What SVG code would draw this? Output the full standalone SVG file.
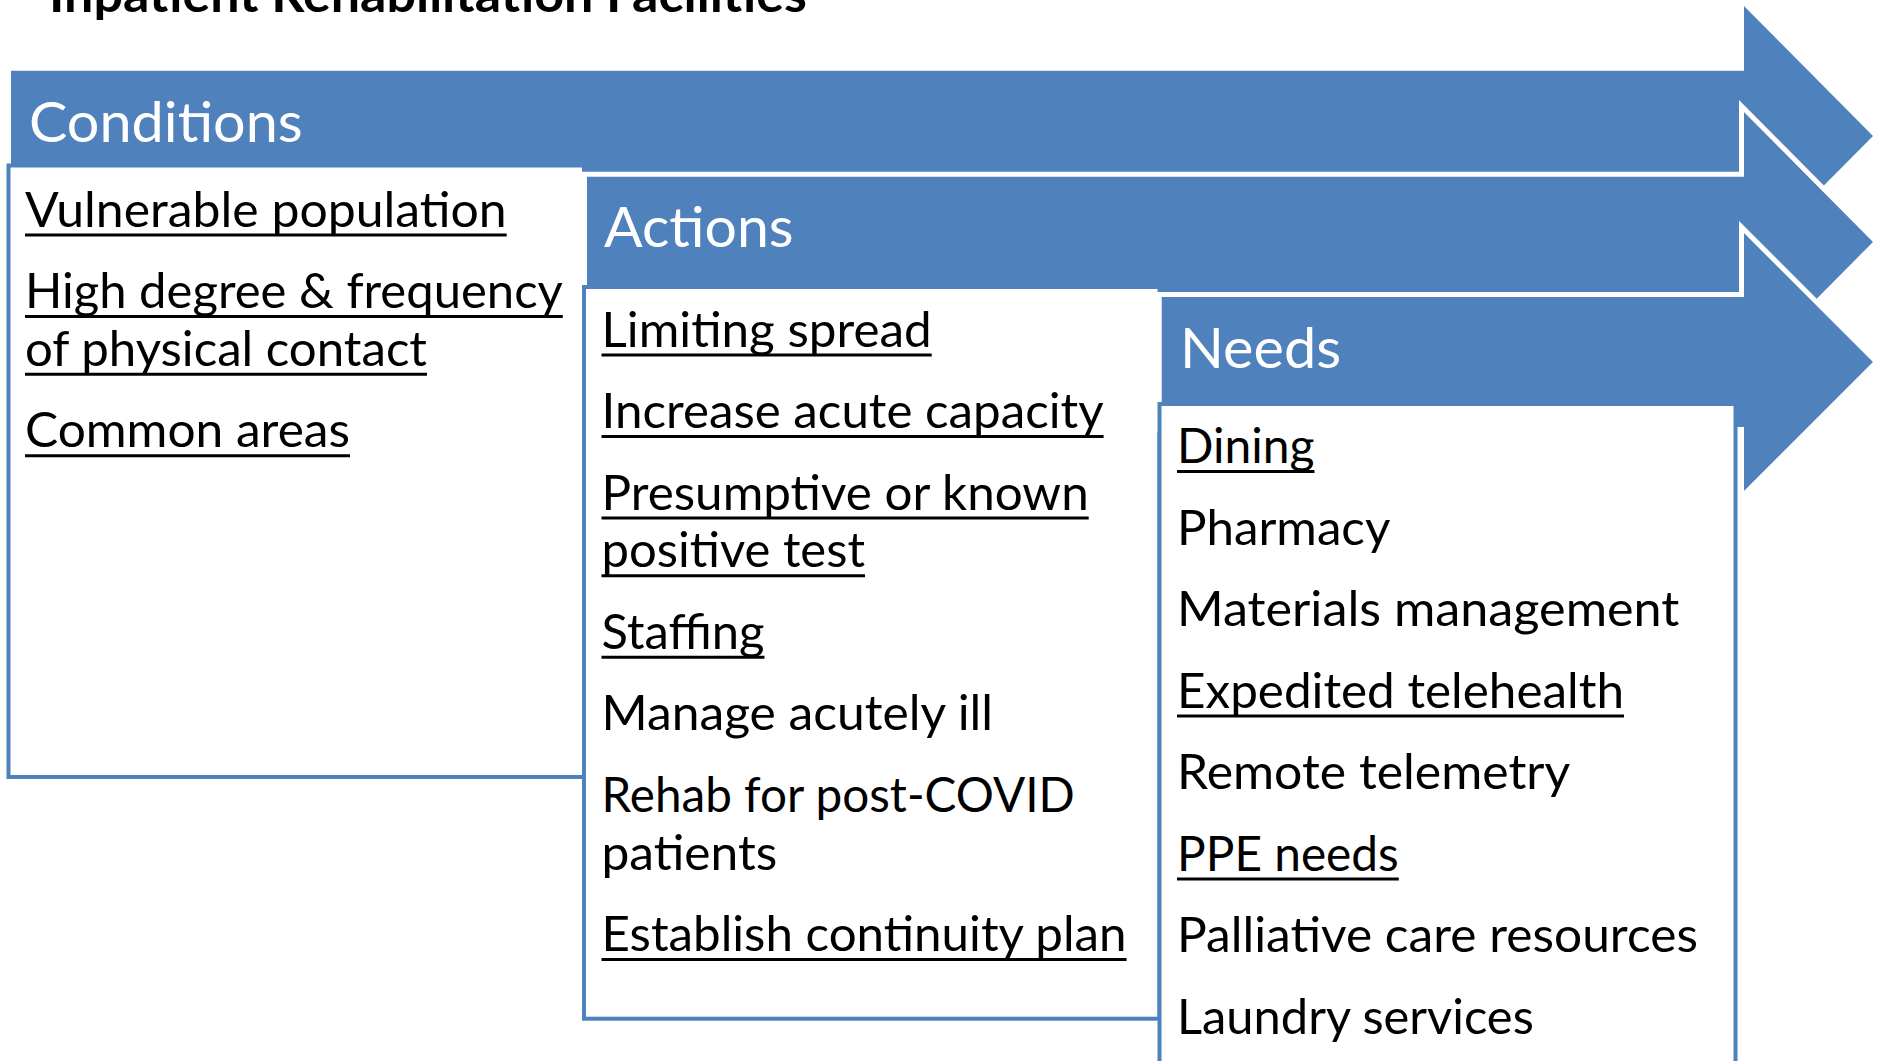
<svg xmlns="http://www.w3.org/2000/svg" width="1877" height="1061" viewBox="0 0 1877 1061">
<style>
text{font-family:Lato,"Liberation Sans","DejaVu Sans",sans-serif}
.title{font-size:49px;font-weight:700;fill:#000}
.hdr{font-size:57px;fill:#fff}
.item{font-size:48px;fill:#000}
.ul{stroke:#000;stroke-width:3}
.arrow{fill:#4F81BD;stroke:#fff;stroke-width:5;stroke-linejoin:miter}
.box{fill:#fff;stroke:#4F81BD;stroke-width:4}
</style>
<rect width="1877" height="1061" fill="#fff"/>
<text id="title" class="title" x="49" y="11.5" textLength="758" lengthAdjust="spacingAndGlyphs">Inpatient Rehabilitation Facilities</text>
<g id="connectors"></g>
<g id="node-conditions">
<path class="arrow" d="M8.5,68.2 H1741.5 V0 L1876.5,136 L1741.5,272 V203.8 H8.5 Z"/>
<text class="hdr" x="29" y="141.7" textLength="273.8" lengthAdjust="spacingAndGlyphs">Conditions</text>
<rect class="box" x="8.5" y="165.5" width="575.5" height="611.5"/>
<text class="item" x="25" y="226.7" textLength="481.7" lengthAdjust="spacingAndGlyphs">Vulnerable population</text>
<text class="item" x="25" y="308.2" textLength="537.8" lengthAdjust="spacingAndGlyphs">High degree &amp; frequency</text>
<text class="item" x="25" y="365.9" textLength="402" lengthAdjust="spacingAndGlyphs">of physical contact</text>
<text class="item" x="25" y="447.4" textLength="325" lengthAdjust="spacingAndGlyphs">Common areas</text>
<g class="ul">
<line x1="25" y1="235" x2="506.7" y2="235"/>
<line x1="25" y1="316.5" x2="562.8" y2="316.5"/>
<line x1="25" y1="374.2" x2="427" y2="374.2"/>
<line x1="25" y1="455.7" x2="350" y2="455.7"/>
</g>
</g>
<g id="node-actions">
<path class="arrow" d="M584.5,174.2 H1741.5 V106 L1876.5,242 L1741.5,378 V309.8 H584.5 Z"/>
<text class="hdr" x="604" y="247" textLength="189.6" lengthAdjust="spacingAndGlyphs">Actions</text>
<rect class="box" x="584" y="287" width="575.5" height="731.7"/>
<text class="item" x="601.5" y="346.7" textLength="330.2" lengthAdjust="spacingAndGlyphs">Limiting spread</text>
<text class="item" x="601.5" y="428.2" textLength="502.1" lengthAdjust="spacingAndGlyphs">Increase acute capacity</text>
<text class="item" x="601.5" y="509.7" textLength="487.2" lengthAdjust="spacingAndGlyphs">Presumptive or known</text>
<text class="item" x="601.5" y="567.4" textLength="263.5" lengthAdjust="spacingAndGlyphs">positive test</text>
<text class="item" x="601.5" y="648.9" textLength="163" lengthAdjust="spacingAndGlyphs">Staffing</text>
<text class="item" x="601.5" y="730.4" textLength="391.6" lengthAdjust="spacingAndGlyphs">Manage acutely ill</text>
<text class="item" x="601.5" y="811.9" textLength="473.2" lengthAdjust="spacingAndGlyphs">Rehab for post-COVID</text>
<text class="item" x="601.5" y="869.6" textLength="175.8" lengthAdjust="spacingAndGlyphs">patients</text>
<text class="item" x="601.5" y="951.1" textLength="525.1" lengthAdjust="spacingAndGlyphs">Establish continuity plan</text>
<g class="ul">
<line x1="601.5" y1="355" x2="931.7" y2="355"/>
<line x1="601.5" y1="436.5" x2="1103.6" y2="436.5"/>
<line x1="601.5" y1="518" x2="1088.7" y2="518"/>
<line x1="601.5" y1="575.7" x2="865" y2="575.7"/>
<line x1="601.5" y1="657.2" x2="764.5" y2="657.2"/>
<line x1="601.5" y1="959.4" x2="1126.6" y2="959.4"/>
</g>
</g>
<g id="node-needs">
<path class="arrow" d="M1159.2,294.5 H1741.5 V227 L1876.5,362 L1741.5,497 V429.5 H1159.2 Z"/>
<text class="hdr" x="1180" y="368.3" textLength="161.2" lengthAdjust="spacingAndGlyphs">Needs</text>
<rect class="box" x="1159.5" y="404" width="576" height="700"/>
<text class="item" x="1177" y="463.3" textLength="137.5" lengthAdjust="spacingAndGlyphs">Dining</text>
<text class="item" x="1177" y="544.8" textLength="213.3" lengthAdjust="spacingAndGlyphs">Pharmacy</text>
<text class="item" x="1177" y="626.3" textLength="502.3" lengthAdjust="spacingAndGlyphs">Materials management</text>
<text class="item" x="1177" y="707.8" textLength="447" lengthAdjust="spacingAndGlyphs">Expedited telehealth</text>
<text class="item" x="1177" y="789.3" textLength="393.3" lengthAdjust="spacingAndGlyphs">Remote telemetry</text>
<text class="item" x="1177" y="870.8" textLength="221.8" lengthAdjust="spacingAndGlyphs">PPE needs</text>
<text class="item" x="1177" y="952.3" textLength="520.9" lengthAdjust="spacingAndGlyphs">Palliative care resources</text>
<text class="item" x="1177" y="1033.8" textLength="356.8" lengthAdjust="spacingAndGlyphs">Laundry services</text>
<g class="ul">
<line x1="1177" y1="471.6" x2="1314.5" y2="471.6"/>
<line x1="1177" y1="716.1" x2="1624" y2="716.1"/>
<line x1="1177" y1="879.1" x2="1398.8" y2="879.1"/>
</g>
</g>
</svg>
